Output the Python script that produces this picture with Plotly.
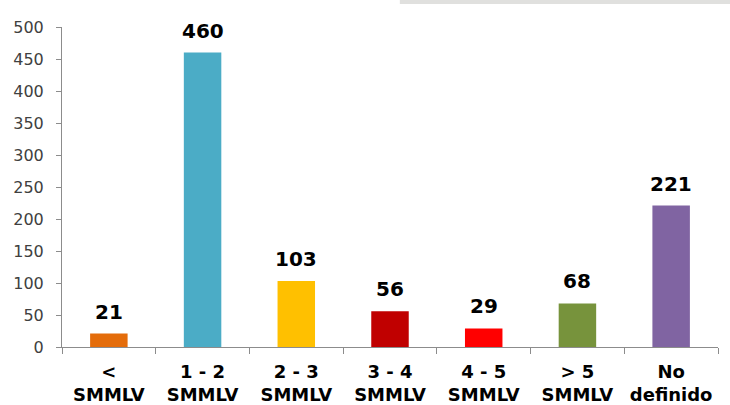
import plotly.graph_objects as go

categories = ["<<br>SMMLV", "1 - 2<br>SMMLV", "2 - 3<br>SMMLV", "3 - 4<br>SMMLV",
              "4 - 5<br>SMMLV", "> 5<br>SMMLV", "No<br>definido"]
values = [21, 460, 103, 56, 29, 68, 221]
colors = ["#E46C0A", "#4BACC6", "#FFC000", "#C00000", "#FF0000", "#77933C", "#8064A2"]
y_ticks = [0, 50, 100, 150, 200, 250, 300, 350, 400, 450, 500]

fig = go.Figure(go.Bar(
    x=categories,
    y=values,
    marker=dict(color=colors, line=dict(width=0)),
    width=0.4,
))

annotations = [
    dict(x=c, y=v, xref="x", yref="y", text=str(v), showarrow=False,
         yanchor="bottom", yshift=8,
         font=dict(family="DejaVu Sans", size=20, color="#000000", weight="bold"))
    for c, v in zip(categories, values)
]

fig.update_layout(
    width=730, height=405,
    margin=dict(l=62, r=12, t=27, b=58),
    paper_bgcolor="white", plot_bgcolor="white",
    showlegend=False,
    font=dict(family="DejaVu Sans"),
    annotations=annotations,
    shapes=[dict(type="rect", xref="paper", yref="paper",
                 x0=0.515, x1=1.02, y0=1.072, y1=1.09,
                 fillcolor="#E0E0DE", line=dict(width=0), layer="below")],
)
fig.update_xaxes(
    automargin=False,
    showline=True, linecolor="#8C8C8C", linewidth=1,
    ticks="outside", ticklen=6, tickcolor="#8C8C8C", tickson="boundaries",
    tickfont=dict(family="DejaVu Sans", size=18, color="#000000", weight="bold"),
    ticklabelstandoff=8,
    showgrid=False,
)
fig.update_yaxes(
    automargin=False,
    range=[0, 500], tickvals=y_ticks,
    showline=True, linecolor="#8C8C8C", linewidth=1,
    ticks="outside", ticklen=5, tickcolor="#8C8C8C",
    tickfont=dict(family="DejaVu Sans", size=16, color="#404040"),
    ticklabelstandoff=9,
    showgrid=False, zeroline=False,
)

fig.write_html("out.html", config={"displayModeBar": False},
               post_script="document.body.style.margin='0';")
